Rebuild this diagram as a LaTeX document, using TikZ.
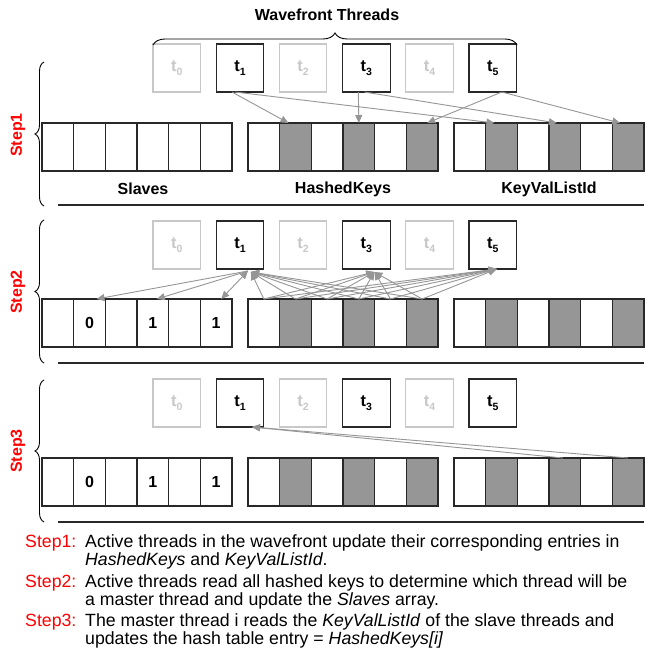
\documentclass[tikz,border=0pt]{standalone}
\usepackage{fontspec}
\setmainfont{Liberation Sans}
\usetikzlibrary{arrows.meta,decorations.pathreplacing}
\definecolor{cellgray}{RGB}{150,150,150}
\definecolor{arrgray}{RGB}{150,150,150}
\definecolor{fadegray}{RGB}{200,200,200}
\definecolor{edgedark}{RGB}{40,40,40}
\definecolor{stepred}{RGB}{255,0,0}
\newcommand{\thr}[1]{\textbf{t}\raisebox{-3.5pt}{\fontsize{10.5}{10.5}\selectfont\bfseries #1}}
\begin{document}
\begin{tikzpicture}[x=1pt,y=-1pt,
  cell/.style={draw=edgedark, line width=1.1pt, minimum width=31.67pt, minimum height=48pt, inner sep=0pt, outer sep=0pt, anchor=north west, font=\fontsize{16}{16}\selectfont\bfseries},
  shaded/.style={cell, fill=cellgray},
  active/.style={draw=edgedark, line width=1.1pt, minimum width=47.5pt, minimum height=48pt, inner sep=0pt, outer sep=0pt, anchor=north west, font=\fontsize{16.5}{16.5}\selectfont},
  idle/.style={active, draw=fadegray, text=fadegray},
  conn/.style={draw=arrgray, line width=0.9pt, -{Triangle[length=8pt,width=7pt]}},
  conn2/.style={draw=arrgray, line width=0.9pt, {Triangle[length=8pt,width=7pt]}-{Triangle[length=8pt,width=7pt]}},
  lbl/.style={font=\fontsize{16}{16}\selectfont\bfseries, inner sep=0pt},
  steplbl/.style={font=\fontsize{16}{16}\selectfont\bfseries, text=stepred, rotate=90, inner sep=0pt},
  sep/.style={draw=edgedark, line width=1.2pt},
  brc/.style={draw=black, line width=0.9pt, decorate, decoration={brace, amplitude=9pt}},
  topbrc/.style={draw=black, line width=0.9pt, decorate, decoration={brace, amplitude=12pt}},
  desc/.style={font=\fontsize{17.7}{18}\selectfont, anchor=base west, inner sep=0pt}
]
\fill[white] (0,0) rectangle (647,653);
\useasboundingbox (0,0) rectangle (647,653);

% arrays
\foreach \r/\y in {1/123,2/299,3/458} {
  \foreach \i/\st in {0/cell,1/shaded,2/cell,3/shaded,4/cell,5/shaded} {
    \node[\st] (hk\r-\i) at ({248+31.67*\i},\y) {};
    \node[\st] (kv\r-\i) at ({454+31.67*\i},\y) {};
  }
}
\foreach \i in {0,...,5} {
  \node[cell] (sl1-\i) at ({42+31.67*\i},123) {};
}
\foreach \r/\y in {2/299,3/458} {
  \foreach \i/\v in {0/{},1/0,2/{},3/1,4/{},5/1} {
    \node[cell] (sl\r-\i) at ({42+31.67*\i},\y) {\v};
  }
}

% threads
\foreach \r/\y in {1/44,2/221,3/379} {
  \foreach \i/\st in {0/idle,1/active,2/idle,3/active,4/idle,5/active} {
    \node[\st] (t\r-\i) at ({153+63.2*\i},\y) {\thr{\i}};
  }
}

% top brace and title
\draw[topbrc] (153,45) -- (517,45);
\node[lbl] (wf) at (327,15) {Wavefront Threads};

% array labels
\node[lbl] (lslaves) at (143,189) {Slaves};
\node[lbl] (lhk) at (343,189) {HashedKeys};
\node[lbl] (lkv) at (549,189) {KeyValListId};

% left braces and step labels
\draw[brc] (44,206) -- (44,62);
\draw[brc] (44,363) -- (44,220);
\draw[brc] (44,522) -- (44,380);
\node[steplbl] (s1) at (18,135) {Step1};
\node[steplbl] (s2) at (18,292) {Step2};
\node[steplbl] (s3) at (18,451) {Step3};

% separators
\draw[sep] (58,205) -- (644,205);
\draw[sep] (58,363) -- (644,363);
\draw[sep] (58,522) -- (644,522);

% step 1 arrows
\draw[conn] ([xshift=-8pt]t1-1.south) -- ([xshift=-7pt]hk1-1.north);
\draw[conn] ([xshift=-5pt]t1-1.south) -- ([xshift=-7pt]kv1-1.north);
\draw[conn] ([xshift=-8pt]t1-3.south) -- (hk1-3.north);
\draw[conn] ([xshift=-2pt]t1-3.south) -- ([xshift=-8pt]kv1-3.north);
\draw[conn] ([xshift=9pt]t1-5.south) -- ([xshift=5pt]hk1-5.north);
\draw[conn] ([xshift=9pt]t1-5.south) -- ([xshift=-8pt]kv1-5.north);

% step 2 arrows
\foreach \i in {0,...,5} {
  \draw[conn] (hk2-\i.north) -- ([xshift=11pt,yshift=-3pt]t2-1.south);
  \draw[conn] (hk2-\i.north) -- ([xshift=8pt,yshift=-3pt]t2-3.south);
  \draw[conn] (hk2-\i.north) -- ([xshift=4pt]t2-5.south);
}
\draw[conn] ([xshift=8pt,yshift=-2pt]t2-1.south) -- ([xshift=7pt]sl2-1.north);
\draw[conn] ([xshift=8pt,yshift=-2pt]t2-1.south) -- ([xshift=4pt]sl2-3.north);
\draw[conn2] ([xshift=8pt,yshift=-2pt]t2-1.south) -- ([xshift=5pt]sl2-5.north);

% step 3 arrows
\draw[conn] ([xshift=-2pt]kv3-3.north) -- ([xshift=12pt]t3-1.south);
\draw[conn] (kv3-5.north) -- ([xshift=12pt]t3-1.south);

% descriptions
\node[desc, text=stepred] (d1) at (25,547) {Step1:};
\node[desc] (d1a) at (85,547) {Active threads in the wavefront update their corresponding entries in};
\node[desc] (d1b) at (85,565) {\textit{HashedKeys} and \textit{KeyValListId}.};
\node[desc, text=stepred] (d2) at (25,587) {Step2:};
\node[desc] (d2a) at (85,587) {Active threads read all hashed keys to determine which thread will be};
\node[desc] (d2b) at (85,605) {a master thread and update the \textit{Slaves} array.};
\node[desc, text=stepred] (d3) at (25,626) {Step3:};
\node[desc] (d3a) at (85,626) {The master thread i reads the \textit{KeyValListId} of the slave threads and};
\node[desc] (d3b) at (85,644) {updates the hash table entry = \textit{HashedKeys[i]}};
\end{tikzpicture}
\end{document}
